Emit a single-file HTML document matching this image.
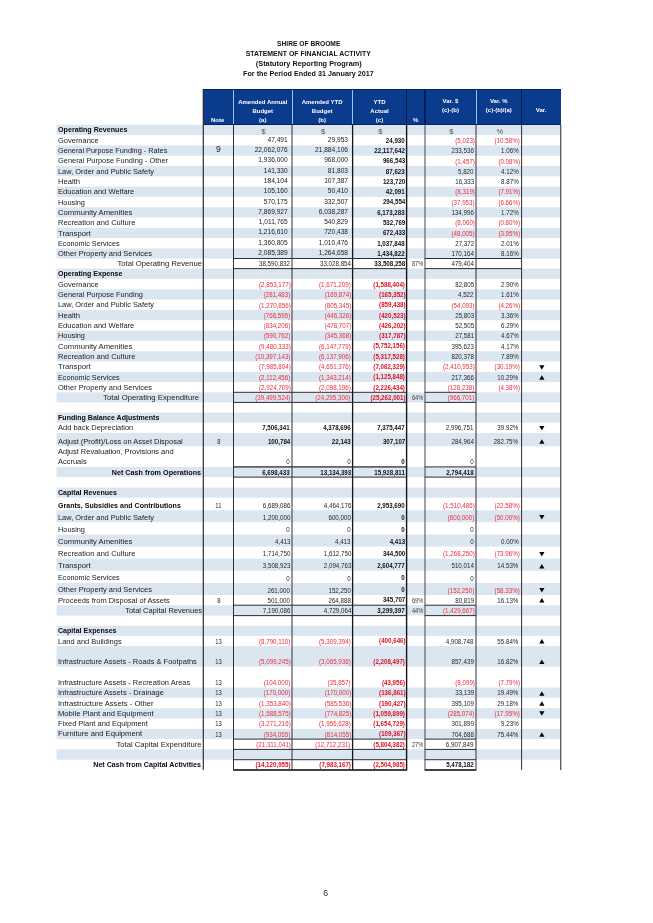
<!DOCTYPE html>
<html lang="en"><head><meta charset="utf-8"><title>Statement of Financial Activity</title>
<style>
html,body{margin:0;padding:0;background:#fff;}
body{width:653px;height:923px;position:relative;overflow:hidden;font-family:"Liberation Sans",sans-serif;color:#222;}
.t{position:absolute;left:56.5px;width:504.2px;text-align:center;font-weight:bold;color:#111;font-size:6.9px;line-height:10px;white-space:nowrap;}
.t span{display:inline-block;transform-origin:50% 50%;}
.row{position:absolute;left:56.5px;width:504.2px;}
.s{background:#dce6f1;}
.c{position:absolute;white-space:nowrap;line-height:10px;}
.c span{display:inline-block;}
.l{left:1.6px;font-size:7.6px;color:#1a1a1a;}
.l span{transform-origin:0 50%;transform:scaleX(0.985);}
.l.b span{transform:scaleX(0.93);}
.lr{font-size:7.6px;color:#1a1a1a;text-align:right;}
.lr span{transform-origin:100% 50%;transform:scaleX(0.985);}
.lr.b span{transform:scaleX(0.93);}
.b{font-weight:bold;color:#0a0a0a;}
.n{text-align:right;font-size:6.6px;color:#262626;}
.n span{transform-origin:100% 50%;transform:scaleX(0.94);}
.n.ar span{transform:none;}
.n.nb span{transform:scaleX(0.96);}
.ar{font-size:6.6px;color:#222;}
.nb{font-weight:bold;font-size:6.45px;color:#111;}
.red{color:#ee2c3a;}
.nb.red{color:#e0101e;}
.ctr{text-align:center;font-size:6.5px;color:#383838;}
.ctr span{transform:scaleX(0.86);}
.sym{text-align:center;font-size:7.4px;color:#555;margin-left:0.9px;}
.nt{text-align:center;font-size:6.5px;color:#2a2a2a;}
.nt span{transform:scaleX(0.9);}
.nt.n9 span{transform:none;}
.tri{text-align:center;font-size:6.5px;color:#000;}
.v{position:absolute;background:#2e2e38;}
.h{position:absolute;background:#2e2e38;}
.hd{position:absolute;background:#0a3b8c;}
.ht{position:absolute;color:#fff;font-weight:bold;font-size:6.0px;line-height:9.0px;text-align:center;white-space:nowrap;}
</style></head><body>

<div class="t" style="top:38.8px"><span style="transform:scaleX(0.966)">SHIRE OF BROOME</span></div>
<div class="t" style="top:48.7px"><span style="transform:scaleX(1.006)">STATEMENT OF FINANCIAL ACTIVITY</span></div>
<div class="t" style="top:58.6px"><span style="transform:scaleX(1.064)">(Statutory Reporting Program)</span></div>
<div class="t" style="top:68.8px"><span style="transform:scaleX(1.048)">For the Period Ended 31 January 2017</span></div>
<svg style="position:absolute;left:0;top:0" width="653" height="923" viewBox="0 0 653 923"><rect x="56.5" y="124.80" width="504.2" height="10.30" fill="#dce6f1"/><rect x="56.5" y="145.40" width="504.2" height="10.30" fill="#dce6f1"/><rect x="56.5" y="166.00" width="504.2" height="10.30" fill="#dce6f1"/><rect x="56.5" y="186.60" width="504.2" height="10.30" fill="#dce6f1"/><rect x="56.5" y="207.20" width="504.2" height="10.30" fill="#dce6f1"/><rect x="56.5" y="227.80" width="504.2" height="10.30" fill="#dce6f1"/><rect x="56.5" y="248.40" width="504.2" height="10.10" fill="#dce6f1"/><rect x="56.5" y="268.60" width="504.2" height="10.30" fill="#dce6f1"/><rect x="56.5" y="289.30" width="504.2" height="10.30" fill="#dce6f1"/><rect x="56.5" y="309.90" width="504.2" height="10.30" fill="#dce6f1"/><rect x="56.5" y="330.60" width="504.2" height="10.30" fill="#dce6f1"/><rect x="56.5" y="351.20" width="504.2" height="10.30" fill="#dce6f1"/><rect x="56.5" y="371.80" width="504.2" height="10.30" fill="#dce6f1"/><rect x="56.5" y="392.30" width="504.2" height="10.10" fill="#dce6f1"/><rect x="56.5" y="412.60" width="504.2" height="10.10" fill="#dce6f1"/><rect x="56.5" y="432.90" width="504.2" height="13.40" fill="#dce6f1"/><rect x="56.5" y="466.90" width="504.2" height="10.20" fill="#dce6f1"/><rect x="56.5" y="487.60" width="504.2" height="10.10" fill="#dce6f1"/><rect x="56.5" y="510.20" width="504.2" height="12.10" fill="#dce6f1"/><rect x="56.5" y="534.50" width="504.2" height="12.10" fill="#dce6f1"/><rect x="56.5" y="558.70" width="504.2" height="12.10" fill="#dce6f1"/><rect x="56.5" y="583.00" width="504.2" height="12.00" fill="#dce6f1"/><rect x="56.5" y="605.20" width="504.2" height="10.40" fill="#dce6f1"/><rect x="56.5" y="625.80" width="504.2" height="10.10" fill="#dce6f1"/><rect x="56.5" y="646.10" width="504.2" height="20.50" fill="#dce6f1"/><rect x="56.5" y="687.50" width="504.2" height="10.30" fill="#dce6f1"/><rect x="56.5" y="708.20" width="504.2" height="10.30" fill="#dce6f1"/><rect x="56.5" y="728.80" width="504.2" height="10.30" fill="#dce6f1"/><rect x="56.5" y="749.40" width="504.2" height="10.30" fill="#dce6f1"/></svg>
<div class="row" style="top:124.80px;height:10.30px">
<div class="c l b" style="top:-0.08px"><span style="transform:scaleX(0.940)">Operating Revenues</span></div>
<div class="c sym" style="left:177.0px;width:58.5px;top:1.99px;"><span>$</span></div>
<div class="c sym" style="left:235.5px;width:60.3px;top:1.99px;"><span>$</span></div>
<div class="c sym" style="left:295.8px;width:54.4px;top:1.99px;"><span>$</span></div>
<div class="c sym" style="left:368.3px;width:51.2px;top:1.99px;"><span>$</span></div>
<div class="c sym" style="left:419.5px;width:45.6px;top:1.99px;"><span>%</span></div>
</div>
<div class="row" style="top:135.10px;height:10.30px">
<div class="c l" style="top:0.62px"><span>Governance</span></div>
<div class="c n ar" style="left:177.0px;width:54.2px;top:-0.04px;"><span>47,491</span></div>
<div class="c n ar" style="left:235.5px;width:56.0px;top:-0.04px;"><span>29,953</span></div>
<div class="c n nb" style="left:295.8px;width:52.6px;top:1.02px;"><span>24,930</span></div>
<div class="c n red" style="left:368.3px;width:49.9px;top:0.96px;"><span>(5,023)</span></div>
<div class="c n red" style="left:419.5px;width:44.0px;top:0.96px;"><span>(10.58%)</span></div>
</div>
<div class="row" style="top:145.40px;height:10.30px">
<div class="c l" style="top:0.32px"><span style="transform:scaleX(0.963)">General Purpose Funding - Rates</span></div>
<div class="c nt n9" style="left:146.8px;width:30.2px;top:-1.03px;font-size:8.6px;color:#1a1a1a;"><span>9</span></div>
<div class="c n ar" style="left:177.0px;width:54.2px;top:-0.34px;"><span>22,062,076</span></div>
<div class="c n ar" style="left:235.5px;width:56.0px;top:-0.34px;"><span>21,884,106</span></div>
<div class="c n nb" style="left:295.8px;width:52.6px;top:0.72px;"><span>22,117,642</span></div>
<div class="c n" style="left:368.3px;width:48.9px;top:0.66px;"><span>233,536</span></div>
<div class="c n" style="left:419.5px;width:42.5px;top:0.66px;"><span>1.06%</span></div>
</div>
<div class="row" style="top:155.70px;height:10.30px">
<div class="c l" style="top:0.02px"><span style="transform:scaleX(0.976)">General Purpose Funding - Other</span></div>
<div class="c n ar" style="left:177.0px;width:54.2px;top:-0.64px;"><span>1,936,000</span></div>
<div class="c n ar" style="left:235.5px;width:56.0px;top:-0.64px;"><span>968,000</span></div>
<div class="c n nb" style="left:295.8px;width:52.6px;top:0.42px;"><span>966,543</span></div>
<div class="c n red" style="left:368.3px;width:49.9px;top:1.36px;"><span>(1,457)</span></div>
<div class="c n red" style="left:419.5px;width:44.0px;top:1.36px;"><span>(0.08%)</span></div>
</div>
<div class="row" style="top:166.00px;height:10.30px">
<div class="c l" style="top:0.72px"><span style="transform:scaleX(0.975)">Law, Order and Public Safety</span></div>
<div class="c n ar" style="left:177.0px;width:54.2px;top:0.06px;"><span>141,330</span></div>
<div class="c n ar" style="left:235.5px;width:56.0px;top:0.06px;"><span>81,803</span></div>
<div class="c n nb" style="left:295.8px;width:52.6px;top:1.12px;"><span>87,623</span></div>
<div class="c n" style="left:368.3px;width:48.9px;top:1.06px;"><span>5,820</span></div>
<div class="c n" style="left:419.5px;width:42.5px;top:1.06px;"><span>4.12%</span></div>
</div>
<div class="row" style="top:176.30px;height:10.30px">
<div class="c l" style="top:0.42px"><span style="transform:scaleX(1.005)">Health</span></div>
<div class="c n ar" style="left:177.0px;width:54.2px;top:-0.24px;"><span>184,104</span></div>
<div class="c n ar" style="left:235.5px;width:56.0px;top:-0.24px;"><span>107,387</span></div>
<div class="c n nb" style="left:295.8px;width:52.6px;top:0.82px;"><span>123,720</span></div>
<div class="c n" style="left:368.3px;width:48.9px;top:0.76px;"><span>16,333</span></div>
<div class="c n" style="left:419.5px;width:42.5px;top:0.76px;"><span>8.87%</span></div>
</div>
<div class="row" style="top:186.60px;height:10.30px">
<div class="c l" style="top:0.12px"><span style="transform:scaleX(0.995)">Education and Welfare</span></div>
<div class="c n ar" style="left:177.0px;width:54.2px;top:-0.54px;"><span>105,160</span></div>
<div class="c n ar" style="left:235.5px;width:56.0px;top:-0.54px;"><span>50,410</span></div>
<div class="c n nb" style="left:295.8px;width:52.6px;top:0.52px;"><span>42,091</span></div>
<div class="c n red" style="left:368.3px;width:49.9px;top:0.46px;"><span>(8,319)</span></div>
<div class="c n red" style="left:419.5px;width:44.0px;top:0.46px;"><span>(7.91%)</span></div>
</div>
<div class="row" style="top:196.90px;height:10.30px">
<div class="c l" style="top:0.82px"><span style="transform:scaleX(0.967)">Housing</span></div>
<div class="c n ar" style="left:177.0px;width:54.2px;top:0.16px;"><span>570,175</span></div>
<div class="c n ar" style="left:235.5px;width:56.0px;top:0.16px;"><span>332,507</span></div>
<div class="c n nb" style="left:295.8px;width:52.6px;top:0.22px;"><span>294,554</span></div>
<div class="c n red" style="left:368.3px;width:49.9px;top:1.16px;"><span>(37,953)</span></div>
<div class="c n red" style="left:419.5px;width:44.0px;top:1.16px;"><span>(6.66%)</span></div>
</div>
<div class="row" style="top:207.20px;height:10.30px">
<div class="c l" style="top:0.52px"><span style="transform:scaleX(1.012)">Community Amenities</span></div>
<div class="c n ar" style="left:177.0px;width:54.2px;top:-0.14px;"><span>7,869,927</span></div>
<div class="c n ar" style="left:235.5px;width:56.0px;top:-0.14px;"><span>6,038,287</span></div>
<div class="c n nb" style="left:295.8px;width:52.6px;top:0.92px;"><span>6,173,283</span></div>
<div class="c n" style="left:368.3px;width:48.9px;top:0.86px;"><span>134,996</span></div>
<div class="c n" style="left:419.5px;width:42.5px;top:0.86px;"><span>1.72%</span></div>
</div>
<div class="row" style="top:217.50px;height:10.30px">
<div class="c l" style="top:0.22px"><span style="transform:scaleX(0.991)">Recreation and Culture</span></div>
<div class="c n ar" style="left:177.0px;width:54.2px;top:-0.44px;"><span>1,011,765</span></div>
<div class="c n ar" style="left:235.5px;width:56.0px;top:-0.44px;"><span>540,829</span></div>
<div class="c n nb" style="left:295.8px;width:52.6px;top:0.62px;"><span>532,769</span></div>
<div class="c n red" style="left:368.3px;width:49.9px;top:0.56px;"><span>(8,060)</span></div>
<div class="c n red" style="left:419.5px;width:44.0px;top:0.56px;"><span>(0.80%)</span></div>
</div>
<div class="row" style="top:227.80px;height:10.30px">
<div class="c l" style="top:0.92px"><span style="transform:scaleX(1.016)">Transport</span></div>
<div class="c n ar" style="left:177.0px;width:54.2px;top:-0.74px;"><span>1,216,610</span></div>
<div class="c n ar" style="left:235.5px;width:56.0px;top:-0.74px;"><span>720,438</span></div>
<div class="c n nb" style="left:295.8px;width:52.6px;top:0.32px;"><span>672,433</span></div>
<div class="c n red" style="left:368.3px;width:49.9px;top:1.26px;"><span>(48,005)</span></div>
<div class="c n red" style="left:419.5px;width:44.0px;top:1.26px;"><span>(3.95%)</span></div>
</div>
<div class="row" style="top:238.10px;height:10.30px">
<div class="c l" style="top:0.62px"><span style="transform:scaleX(0.954)">Economic Services</span></div>
<div class="c n ar" style="left:177.0px;width:54.2px;top:-0.04px;"><span>1,360,805</span></div>
<div class="c n ar" style="left:235.5px;width:56.0px;top:-0.04px;"><span>1,010,476</span></div>
<div class="c n nb" style="left:295.8px;width:52.6px;top:1.02px;"><span>1,037,848</span></div>
<div class="c n" style="left:368.3px;width:48.9px;top:0.96px;"><span>27,372</span></div>
<div class="c n" style="left:419.5px;width:42.5px;top:0.96px;"><span>2.01%</span></div>
</div>
<div class="row" style="top:248.40px;height:10.10px">
<div class="c l" style="top:0.32px"><span style="transform:scaleX(0.980)">Other Property and Services</span></div>
<div class="c n ar" style="left:177.0px;width:54.2px;top:-0.34px;"><span>2,085,389</span></div>
<div class="c n ar" style="left:235.5px;width:56.0px;top:-0.34px;"><span>1,264,658</span></div>
<div class="c n nb" style="left:295.8px;width:52.6px;top:0.72px;"><span>1,434,822</span></div>
<div class="c n" style="left:368.3px;width:48.9px;top:0.66px;"><span>170,164</span></div>
<div class="c n" style="left:419.5px;width:42.5px;top:0.66px;"><span>8.16%</span></div>
</div>
<div class="row" style="top:258.50px;height:10.10px">
<div class="c lr" style="left:0;width:145.3px;top:0.22px"><span style="transform:scaleX(1.006)">Total Operating Revenue</span></div>
<div class="c n" style="left:177.0px;width:56.6px;top:0.56px;"><span>38,590,832</span></div>
<div class="c n" style="left:235.5px;width:58.9px;top:0.56px;"><span>33,028,854</span></div>
<div class="c n nb" style="left:295.8px;width:52.6px;top:0.62px;"><span>33,508,258</span></div>
<div class="c ctr" style="left:350.2px;width:18.1px;top:0.56px;margin-left:1.8px;"><span>87%</span></div>
<div class="c n" style="left:368.3px;width:48.9px;top:0.56px;"><span>479,404</span></div>
</div>
<div class="row" style="top:268.60px;height:10.30px">
<div class="c l b" style="top:0.12px"><span>Operating Expense</span></div>
</div>
<div class="row" style="top:278.90px;height:10.40px">
<div class="c l" style="top:0.82px"><span>Governance</span></div>
<div class="c n red" style="left:177.0px;width:57.1px;top:1.16px;"><span>(2,853,177)</span></div>
<div class="c n red" style="left:235.5px;width:58.9px;top:1.16px;"><span>(1,671,209)</span></div>
<div class="c n nb red" style="left:295.8px;width:52.9px;top:1.22px;"><span>(1,588,404)</span></div>
<div class="c n" style="left:368.3px;width:48.9px;top:1.16px;"><span>82,805</span></div>
<div class="c n" style="left:419.5px;width:42.5px;top:1.16px;"><span>2.90%</span></div>
</div>
<div class="row" style="top:289.30px;height:10.30px">
<div class="c l" style="top:0.42px"><span style="transform:scaleX(0.976)">General Purpose Funding</span></div>
<div class="c n red" style="left:177.0px;width:57.1px;top:0.76px;"><span>(281,483)</span></div>
<div class="c n red" style="left:235.5px;width:58.9px;top:0.76px;"><span>(169,874)</span></div>
<div class="c n nb red" style="left:295.8px;width:52.9px;top:0.82px;"><span>(165,352)</span></div>
<div class="c n" style="left:368.3px;width:48.9px;top:0.76px;"><span>4,522</span></div>
<div class="c n" style="left:419.5px;width:42.5px;top:0.76px;"><span>1.61%</span></div>
</div>
<div class="row" style="top:299.60px;height:10.30px">
<div class="c l" style="top:0.12px"><span style="transform:scaleX(0.975)">Law, Order and Public Safety</span></div>
<div class="c n red" style="left:177.0px;width:57.1px;top:1.46px;"><span>(1,270,856)</span></div>
<div class="c n red" style="left:235.5px;width:58.9px;top:1.46px;"><span>(805,345)</span></div>
<div class="c n nb red" style="left:295.8px;width:52.9px;top:0.52px;"><span>(859,438)</span></div>
<div class="c n red" style="left:368.3px;width:49.9px;top:1.46px;"><span>(54,093)</span></div>
<div class="c n red" style="left:419.5px;width:44.0px;top:1.46px;"><span>(4.26%)</span></div>
</div>
<div class="row" style="top:309.90px;height:10.30px">
<div class="c l" style="top:0.82px"><span style="transform:scaleX(1.005)">Health</span></div>
<div class="c n red" style="left:177.0px;width:57.1px;top:1.16px;"><span>(768,595)</span></div>
<div class="c n red" style="left:235.5px;width:58.9px;top:1.16px;"><span>(446,326)</span></div>
<div class="c n nb red" style="left:295.8px;width:52.9px;top:1.22px;"><span>(420,523)</span></div>
<div class="c n" style="left:368.3px;width:48.9px;top:1.16px;"><span>25,803</span></div>
<div class="c n" style="left:419.5px;width:42.5px;top:1.16px;"><span>3.36%</span></div>
</div>
<div class="row" style="top:320.20px;height:10.40px">
<div class="c l" style="top:0.52px"><span style="transform:scaleX(0.995)">Education and Welfare</span></div>
<div class="c n red" style="left:177.0px;width:57.1px;top:0.86px;"><span>(834,206)</span></div>
<div class="c n red" style="left:235.5px;width:58.9px;top:0.86px;"><span>(478,707)</span></div>
<div class="c n nb red" style="left:295.8px;width:52.9px;top:0.92px;"><span>(426,202)</span></div>
<div class="c n" style="left:368.3px;width:48.9px;top:0.86px;"><span>52,505</span></div>
<div class="c n" style="left:419.5px;width:42.5px;top:0.86px;"><span>6.29%</span></div>
</div>
<div class="row" style="top:330.60px;height:10.30px">
<div class="c l" style="top:0.12px"><span style="transform:scaleX(0.967)">Housing</span></div>
<div class="c n red" style="left:177.0px;width:57.1px;top:0.46px;"><span>(590,762)</span></div>
<div class="c n red" style="left:235.5px;width:58.9px;top:0.46px;"><span>(345,368)</span></div>
<div class="c n nb red" style="left:295.8px;width:52.9px;top:0.52px;"><span>(317,787)</span></div>
<div class="c n" style="left:368.3px;width:48.9px;top:0.46px;"><span>27,581</span></div>
<div class="c n" style="left:419.5px;width:42.5px;top:0.46px;"><span>4.67%</span></div>
</div>
<div class="row" style="top:340.90px;height:10.30px">
<div class="c l" style="top:0.82px"><span style="transform:scaleX(1.012)">Community Amenities</span></div>
<div class="c n red" style="left:177.0px;width:57.1px;top:1.16px;"><span>(9,480,333)</span></div>
<div class="c n red" style="left:235.5px;width:58.9px;top:1.16px;"><span>(6,147,779)</span></div>
<div class="c n nb red" style="left:295.8px;width:52.9px;top:0.22px;"><span>(5,752,156)</span></div>
<div class="c n" style="left:368.3px;width:48.9px;top:1.16px;"><span>395,623</span></div>
<div class="c n" style="left:419.5px;width:42.5px;top:1.16px;"><span>4.17%</span></div>
</div>
<div class="row" style="top:351.20px;height:10.30px">
<div class="c l" style="top:0.52px"><span style="transform:scaleX(0.991)">Recreation and Culture</span></div>
<div class="c n red" style="left:177.0px;width:57.1px;top:0.86px;"><span>(10,397,143)</span></div>
<div class="c n red" style="left:235.5px;width:58.9px;top:0.86px;"><span>(6,137,906)</span></div>
<div class="c n nb red" style="left:295.8px;width:52.9px;top:0.92px;"><span>(5,317,528)</span></div>
<div class="c n" style="left:368.3px;width:48.9px;top:0.86px;"><span>820,378</span></div>
<div class="c n" style="left:419.5px;width:42.5px;top:0.86px;"><span>7.89%</span></div>
</div>
<div class="row" style="top:361.50px;height:10.30px">
<div class="c l" style="top:0.22px"><span style="transform:scaleX(1.016)">Transport</span></div>
<div class="c n red" style="left:177.0px;width:57.1px;top:0.56px;"><span>(7,985,804)</span></div>
<div class="c n red" style="left:235.5px;width:58.9px;top:0.56px;"><span>(4,651,376)</span></div>
<div class="c n nb red" style="left:295.8px;width:52.9px;top:0.62px;"><span>(7,062,329)</span></div>
<div class="c n red" style="left:368.3px;width:49.9px;top:0.56px;"><span>(2,410,953)</span></div>
<div class="c n red" style="left:419.5px;width:44.0px;top:0.56px;"><span>(30.19%)</span></div>
<svg style="position:absolute;left:0;top:0;overflow:visible" width="504.2" height="10.3"><polygon points="482.25,3.20 487.45,3.20 484.85,7.70" fill="#000"/></svg>
</div>
<div class="row" style="top:371.80px;height:10.30px">
<div class="c l" style="top:0.92px"><span style="transform:scaleX(0.954)">Economic Services</span></div>
<div class="c n red" style="left:177.0px;width:57.1px;top:1.26px;"><span>(2,112,456)</span></div>
<div class="c n red" style="left:235.5px;width:58.9px;top:1.26px;"><span>(1,343,214)</span></div>
<div class="c n nb red" style="left:295.8px;width:52.9px;top:0.32px;"><span>(1,125,848)</span></div>
<div class="c n" style="left:368.3px;width:48.9px;top:1.26px;"><span>217,366</span></div>
<div class="c n" style="left:419.5px;width:42.5px;top:1.26px;"><span>10.29%</span></div>
<svg style="position:absolute;left:0;top:0;overflow:visible" width="504.2" height="10.3"><polygon points="482.25,7.70 487.45,7.70 484.85,3.20" fill="#000"/></svg>
</div>
<div class="row" style="top:382.10px;height:10.20px">
<div class="c l" style="top:0.62px"><span style="transform:scaleX(0.980)">Other Property and Services</span></div>
<div class="c n red" style="left:177.0px;width:57.1px;top:0.96px;"><span>(2,924,709)</span></div>
<div class="c n red" style="left:235.5px;width:58.9px;top:0.96px;"><span>(2,098,196)</span></div>
<div class="c n nb red" style="left:295.8px;width:52.9px;top:1.02px;"><span>(2,226,434)</span></div>
<div class="c n red" style="left:368.3px;width:49.9px;top:0.96px;"><span>(128,238)</span></div>
<div class="c n red" style="left:419.5px;width:44.0px;top:0.96px;"><span>(4.38%)</span></div>
</div>
<div class="row" style="top:392.30px;height:10.10px">
<div class="c lr" style="left:0;width:142.6px;top:0.42px"><span style="transform:scaleX(1.020)">Total Operating Expenditure</span></div>
<div class="c n red" style="left:177.0px;width:57.1px;top:0.76px;"><span>(39,499,524)</span></div>
<div class="c n red" style="left:235.5px;width:58.9px;top:0.76px;"><span>(24,295,300)</span></div>
<div class="c n nb red" style="left:295.8px;width:52.9px;top:0.82px;"><span>(25,262,001)</span></div>
<div class="c ctr" style="left:350.2px;width:18.1px;top:0.76px;margin-left:1.8px;"><span>64%</span></div>
<div class="c n red" style="left:368.3px;width:49.9px;top:0.76px;"><span>(966,701)</span></div>
</div>
<div class="row" style="top:402.40px;height:10.20px">
</div>
<div class="row" style="top:412.60px;height:10.10px">
<div class="c l b" style="top:0.12px"><span>Funding Balance Adjustments</span></div>
</div>
<div class="row" style="top:422.70px;height:10.20px">
<div class="c l" style="top:0.02px"><span>Add back Depreciation</span></div>
<div class="c n nb" style="left:177.0px;width:56.6px;top:0.42px;"><span>7,506,341</span></div>
<div class="c n nb" style="left:235.5px;width:58.9px;top:0.42px;"><span>4,378,696</span></div>
<div class="c n nb" style="left:295.8px;width:52.6px;top:0.42px;"><span>7,375,447</span></div>
<div class="c n" style="left:368.3px;width:48.9px;top:0.36px;"><span>2,996,751</span></div>
<div class="c n" style="left:419.5px;width:42.5px;top:0.36px;"><span>39.92%</span></div>
<svg style="position:absolute;left:0;top:0;overflow:visible" width="504.2" height="10.2"><polygon points="482.25,3.10 487.45,3.10 484.85,7.60" fill="#000"/></svg>
</div>
<div class="row" style="top:432.90px;height:13.40px">
<div class="c l" style="top:3.82px"><span>Adjust (Profit)/Loss on Asset Disposal</span></div>
<div class="c nt" style="left:146.8px;width:30.2px;top:4.20px;"><span>8</span></div>
<div class="c n nb" style="left:177.0px;width:56.6px;top:4.22px;"><span>100,784</span></div>
<div class="c n nb" style="left:235.5px;width:58.9px;top:4.22px;"><span>22,143</span></div>
<div class="c n nb" style="left:295.8px;width:52.6px;top:4.22px;"><span>307,107</span></div>
<div class="c n" style="left:368.3px;width:48.9px;top:4.16px;"><span>284,964</span></div>
<div class="c n" style="left:419.5px;width:42.5px;top:4.16px;"><span>282.75%</span></div>
<svg style="position:absolute;left:0;top:0;overflow:visible" width="504.2" height="13.4"><polygon points="482.25,10.80 487.45,10.80 484.85,6.30" fill="#000"/></svg>
</div>
<div class="row" style="top:446.30px;height:20.60px">
<div class="c l" style="top:0.42px"><span>Adjust Revaluation, Provisions and<br>Accruals</span></div>
<div class="c n" style="left:177.0px;width:56.6px;top:10.76px;"><span>0</span></div>
<div class="c n" style="left:235.5px;width:58.9px;top:10.76px;"><span>0</span></div>
<div class="c n nb" style="left:295.8px;width:52.6px;top:10.82px;"><span>0</span></div>
<div class="c n" style="left:368.3px;width:48.9px;top:10.76px;"><span>0</span></div>
</div>
<div class="row" style="top:466.90px;height:10.20px">
<div class="c lr b" style="left:0;width:144.8px;top:0.82px"><span style="transform:scaleX(0.950)">Net Cash from Operations</span></div>
<div class="c n nb" style="left:177.0px;width:56.6px;top:1.22px;"><span>6,698,433</span></div>
<div class="c n nb" style="left:235.5px;width:58.9px;top:1.22px;"><span>13,134,393</span></div>
<div class="c n nb" style="left:295.8px;width:52.6px;top:1.22px;"><span>15,928,811</span></div>
<div class="c n nb" style="left:368.3px;width:48.9px;top:1.22px;"><span>2,794,418</span></div>
</div>
<div class="row" style="top:477.10px;height:10.50px">
</div>
<div class="row" style="top:487.60px;height:10.10px">
<div class="c l b" style="top:0.12px"><span>Capital Revenues</span></div>
</div>
<div class="row" style="top:497.70px;height:12.50px">
<div class="c l b" style="top:3.02px"><span>Grants, Subsidies and Contributions</span></div>
<div class="c nt" style="left:146.8px;width:30.2px;top:3.40px;"><span>11</span></div>
<div class="c n" style="left:177.0px;width:56.6px;top:3.36px;"><span>6,689,086</span></div>
<div class="c n" style="left:235.5px;width:58.9px;top:3.36px;"><span>4,464,176</span></div>
<div class="c n nb" style="left:295.8px;width:52.6px;top:3.42px;"><span>2,953,690</span></div>
<div class="c n red" style="left:368.3px;width:49.9px;top:3.36px;"><span>(1,510,486)</span></div>
<div class="c n red" style="left:419.5px;width:44.0px;top:3.36px;"><span>(22.58%)</span></div>
</div>
<div class="row" style="top:510.20px;height:12.10px">
<div class="c l" style="top:2.52px"><span style="transform:scaleX(0.975)">Law, Order and Public Safety</span></div>
<div class="c n" style="left:177.0px;width:56.6px;top:2.86px;"><span>1,200,000</span></div>
<div class="c n" style="left:235.5px;width:58.9px;top:2.86px;"><span>600,000</span></div>
<div class="c n nb" style="left:295.8px;width:52.6px;top:2.92px;"><span>0</span></div>
<div class="c n red" style="left:368.3px;width:49.9px;top:2.86px;"><span>(600,000)</span></div>
<div class="c n red" style="left:419.5px;width:44.0px;top:2.86px;"><span>(50.00%)</span></div>
<svg style="position:absolute;left:0;top:0;overflow:visible" width="504.2" height="12.1"><polygon points="482.25,5.00 487.45,5.00 484.85,9.50" fill="#000"/></svg>
</div>
<div class="row" style="top:522.30px;height:12.20px">
<div class="c l" style="top:2.42px"><span style="transform:scaleX(0.967)">Housing</span></div>
<div class="c n" style="left:177.0px;width:56.6px;top:2.76px;"><span>0</span></div>
<div class="c n" style="left:235.5px;width:58.9px;top:2.76px;"><span>0</span></div>
<div class="c n nb" style="left:295.8px;width:52.6px;top:2.82px;"><span>0</span></div>
<div class="c n" style="left:368.3px;width:48.9px;top:2.76px;"><span>0</span></div>
</div>
<div class="row" style="top:534.50px;height:12.10px">
<div class="c l" style="top:2.22px"><span style="transform:scaleX(1.012)">Community Amenities</span></div>
<div class="c n" style="left:177.0px;width:56.6px;top:2.56px;"><span>4,413</span></div>
<div class="c n" style="left:235.5px;width:58.9px;top:2.56px;"><span>4,413</span></div>
<div class="c n nb" style="left:295.8px;width:52.6px;top:2.62px;"><span>4,413</span></div>
<div class="c n" style="left:368.3px;width:48.9px;top:2.56px;"><span>0</span></div>
<div class="c n" style="left:419.5px;width:42.5px;top:2.56px;"><span>0.00%</span></div>
</div>
<div class="row" style="top:546.60px;height:12.10px">
<div class="c l" style="top:2.12px"><span style="transform:scaleX(0.991)">Recreation and Culture</span></div>
<div class="c n" style="left:177.0px;width:56.6px;top:2.46px;"><span>1,714,750</span></div>
<div class="c n" style="left:235.5px;width:58.9px;top:2.46px;"><span>1,612,750</span></div>
<div class="c n nb" style="left:295.8px;width:52.6px;top:2.52px;"><span>344,500</span></div>
<div class="c n red" style="left:368.3px;width:49.9px;top:2.46px;"><span>(1,268,250)</span></div>
<div class="c n red" style="left:419.5px;width:44.0px;top:2.46px;"><span>(73.96%)</span></div>
<svg style="position:absolute;left:0;top:0;overflow:visible" width="504.2" height="12.1"><polygon points="482.25,5.00 487.45,5.00 484.85,9.50" fill="#000"/></svg>
</div>
<div class="row" style="top:558.70px;height:12.10px">
<div class="c l" style="top:2.02px"><span style="transform:scaleX(1.016)">Transport</span></div>
<div class="c n" style="left:177.0px;width:56.6px;top:2.36px;"><span>3,508,923</span></div>
<div class="c n" style="left:235.5px;width:58.9px;top:2.36px;"><span>2,094,763</span></div>
<div class="c n nb" style="left:295.8px;width:52.6px;top:2.42px;"><span>2,604,777</span></div>
<div class="c n" style="left:368.3px;width:48.9px;top:2.36px;"><span>510,014</span></div>
<div class="c n" style="left:419.5px;width:42.5px;top:2.36px;"><span>14.53%</span></div>
<svg style="position:absolute;left:0;top:0;overflow:visible" width="504.2" height="12.1"><polygon points="482.25,9.50 487.45,9.50 484.85,5.00" fill="#000"/></svg>
</div>
<div class="row" style="top:570.80px;height:12.20px">
<div class="c l" style="top:1.92px"><span style="transform:scaleX(0.954)">Economic Services</span></div>
<div class="c n" style="left:177.0px;width:56.6px;top:3.26px;"><span>0</span></div>
<div class="c n" style="left:235.5px;width:58.9px;top:3.26px;"><span>0</span></div>
<div class="c n nb" style="left:295.8px;width:52.6px;top:2.32px;"><span>0</span></div>
<div class="c n" style="left:368.3px;width:48.9px;top:3.26px;"><span>0</span></div>
</div>
<div class="row" style="top:583.00px;height:12.00px">
<div class="c l" style="top:1.72px"><span style="transform:scaleX(0.980)">Other Property and Services</span></div>
<div class="c n" style="left:177.0px;width:56.6px;top:3.06px;"><span>261,000</span></div>
<div class="c n" style="left:235.5px;width:58.9px;top:3.06px;"><span>152,250</span></div>
<div class="c n nb" style="left:295.8px;width:52.6px;top:2.12px;"><span>0</span></div>
<div class="c n red" style="left:368.3px;width:49.9px;top:3.06px;"><span>(152,250)</span></div>
<div class="c n red" style="left:419.5px;width:44.0px;top:3.06px;"><span>(58.33%)</span></div>
<svg style="position:absolute;left:0;top:0;overflow:visible" width="504.2" height="12.0"><polygon points="482.25,4.90 487.45,4.90 484.85,9.40" fill="#000"/></svg>
</div>
<div class="row" style="top:595.00px;height:10.20px">
<div class="c l" style="top:0.72px"><span>Proceeds from Disposal of Assets</span></div>
<div class="c nt" style="left:146.8px;width:30.2px;top:1.10px;"><span>8</span></div>
<div class="c n" style="left:177.0px;width:56.6px;top:1.06px;"><span>501,000</span></div>
<div class="c n" style="left:235.5px;width:58.9px;top:1.06px;"><span>264,888</span></div>
<div class="c n nb" style="left:295.8px;width:52.6px;top:0.12px;"><span>345,707</span></div>
<div class="c ctr" style="left:350.2px;width:18.1px;top:1.06px;margin-left:1.8px;"><span>69%</span></div>
<div class="c n" style="left:368.3px;width:48.9px;top:1.06px;"><span>80,819</span></div>
<div class="c n" style="left:419.5px;width:42.5px;top:1.06px;"><span>16.13%</span></div>
<svg style="position:absolute;left:0;top:0;overflow:visible" width="504.2" height="10.2"><polygon points="482.25,7.60 487.45,7.60 484.85,3.10" fill="#000"/></svg>
</div>
<div class="row" style="top:605.20px;height:10.40px">
<div class="c lr" style="left:0;width:145.3px;top:0.52px"><span>Total Capital Revenues</span></div>
<div class="c n" style="left:177.0px;width:56.6px;top:0.86px;"><span>7,190,086</span></div>
<div class="c n" style="left:235.5px;width:58.9px;top:0.86px;"><span>4,729,064</span></div>
<div class="c n nb" style="left:295.8px;width:52.6px;top:0.92px;"><span>3,299,397</span></div>
<div class="c ctr" style="left:350.2px;width:18.1px;top:0.86px;margin-left:1.8px;"><span>44%</span></div>
<div class="c n red" style="left:368.3px;width:49.9px;top:0.86px;"><span>(1,429,667)</span></div>
</div>
<div class="row" style="top:615.60px;height:10.20px">
</div>
<div class="row" style="top:625.80px;height:10.10px">
<div class="c l b" style="top:-0.08px"><span>Capital Expenses</span></div>
</div>
<div class="row" style="top:635.90px;height:10.20px">
<div class="c l" style="top:0.82px"><span>Land and Buildings</span></div>
<div class="c nt" style="left:146.8px;width:30.2px;top:1.20px;"><span>13</span></div>
<div class="c n red" style="left:177.0px;width:57.1px;top:1.16px;"><span>(8,790,110)</span></div>
<div class="c n red" style="left:235.5px;width:58.9px;top:1.16px;"><span>(5,309,394)</span></div>
<div class="c n nb red" style="left:295.8px;width:52.9px;top:0.22px;"><span>(400,646)</span></div>
<div class="c n" style="left:368.3px;width:48.9px;top:1.16px;"><span>4,908,748</span></div>
<div class="c n" style="left:419.5px;width:42.5px;top:1.16px;"><span>55.84%</span></div>
<svg style="position:absolute;left:0;top:0;overflow:visible" width="504.2" height="10.2"><polygon points="482.25,7.60 487.45,7.60 484.85,3.10" fill="#000"/></svg>
</div>
<div class="row" style="top:646.10px;height:20.50px">
<div class="c l" style="top:10.62px"><span>Infrastructure Assets - Roads &amp; Footpaths</span></div>
<div class="c nt" style="left:146.8px;width:30.2px;top:11.00px;"><span>13</span></div>
<div class="c n red" style="left:177.0px;width:57.1px;top:10.96px;"><span>(5,099,245)</span></div>
<div class="c n red" style="left:235.5px;width:58.9px;top:10.96px;"><span>(3,065,936)</span></div>
<div class="c n nb red" style="left:295.8px;width:52.9px;top:11.02px;"><span>(2,208,497)</span></div>
<div class="c n" style="left:368.3px;width:48.9px;top:10.96px;"><span>857,439</span></div>
<div class="c n" style="left:419.5px;width:42.5px;top:10.96px;"><span>16.82%</span></div>
<svg style="position:absolute;left:0;top:0;overflow:visible" width="504.2" height="20.5"><polygon points="482.25,17.90 487.45,17.90 484.85,13.40" fill="#000"/></svg>
</div>
<div class="row" style="top:666.60px;height:20.90px">
<div class="c l" style="top:11.12px"><span>Infrastructure Assets - Recreation Areas</span></div>
<div class="c nt" style="left:146.8px;width:30.2px;top:11.50px;"><span>13</span></div>
<div class="c n red" style="left:177.0px;width:57.1px;top:11.46px;"><span>(104,000)</span></div>
<div class="c n red" style="left:235.5px;width:58.9px;top:11.46px;"><span>(35,857)</span></div>
<div class="c n nb red" style="left:295.8px;width:52.9px;top:11.52px;"><span>(43,956)</span></div>
<div class="c n red" style="left:368.3px;width:49.9px;top:11.46px;"><span>(8,099)</span></div>
<div class="c n red" style="left:419.5px;width:44.0px;top:11.46px;"><span>(7.79%)</span></div>
</div>
<div class="row" style="top:687.50px;height:10.30px">
<div class="c l" style="top:0.22px"><span style="transform:scaleX(0.992)">Infrastructure Assets - Drainage</span></div>
<div class="c nt" style="left:146.8px;width:30.2px;top:0.60px;"><span>13</span></div>
<div class="c n red" style="left:177.0px;width:57.1px;top:0.56px;"><span>(170,000)</span></div>
<div class="c n red" style="left:235.5px;width:58.9px;top:0.56px;"><span>(170,000)</span></div>
<div class="c n nb red" style="left:295.8px;width:52.9px;top:0.62px;"><span>(136,861)</span></div>
<div class="c n" style="left:368.3px;width:48.9px;top:0.56px;"><span>33,139</span></div>
<div class="c n" style="left:419.5px;width:42.5px;top:0.56px;"><span>19.49%</span></div>
<svg style="position:absolute;left:0;top:0;overflow:visible" width="504.2" height="10.3"><polygon points="482.25,7.70 487.45,7.70 484.85,3.20" fill="#000"/></svg>
</div>
<div class="row" style="top:697.80px;height:10.40px">
<div class="c l" style="top:0.92px"><span style="transform:scaleX(1.006)">Infrastructure Assets - Other</span></div>
<div class="c nt" style="left:146.8px;width:30.2px;top:1.30px;"><span>13</span></div>
<div class="c n red" style="left:177.0px;width:57.1px;top:1.26px;"><span>(1,353,840)</span></div>
<div class="c n red" style="left:235.5px;width:58.9px;top:1.26px;"><span>(585,536)</span></div>
<div class="c n nb red" style="left:295.8px;width:52.9px;top:1.32px;"><span>(190,427)</span></div>
<div class="c n" style="left:368.3px;width:48.9px;top:1.26px;"><span>395,109</span></div>
<div class="c n" style="left:419.5px;width:42.5px;top:1.26px;"><span>29.18%</span></div>
<svg style="position:absolute;left:0;top:0;overflow:visible" width="504.2" height="10.4"><polygon points="482.25,7.80 487.45,7.80 484.85,3.30" fill="#000"/></svg>
</div>
<div class="row" style="top:708.20px;height:10.30px">
<div class="c l" style="top:0.52px"><span style="transform:scaleX(1.006)">Mobile Plant and Equipment</span></div>
<div class="c nt" style="left:146.8px;width:30.2px;top:0.90px;"><span>13</span></div>
<div class="c n red" style="left:177.0px;width:57.1px;top:0.86px;"><span>(1,588,575)</span></div>
<div class="c n red" style="left:235.5px;width:58.9px;top:0.86px;"><span>(774,825)</span></div>
<div class="c n nb red" style="left:295.8px;width:52.9px;top:0.92px;"><span>(1,059,899)</span></div>
<div class="c n red" style="left:368.3px;width:49.9px;top:0.86px;"><span>(285,074)</span></div>
<div class="c n red" style="left:419.5px;width:44.0px;top:0.86px;"><span>(17.95%)</span></div>
<svg style="position:absolute;left:0;top:0;overflow:visible" width="504.2" height="10.3"><polygon points="482.25,3.20 487.45,3.20 484.85,7.70" fill="#000"/></svg>
</div>
<div class="row" style="top:718.50px;height:10.30px">
<div class="c l" style="top:0.22px"><span>Fixed Plant and Equipment</span></div>
<div class="c nt" style="left:146.8px;width:30.2px;top:0.60px;"><span>13</span></div>
<div class="c n red" style="left:177.0px;width:57.1px;top:0.56px;"><span>(3,271,216)</span></div>
<div class="c n red" style="left:235.5px;width:58.9px;top:0.56px;"><span>(1,956,628)</span></div>
<div class="c n nb red" style="left:295.8px;width:52.9px;top:0.62px;"><span>(1,654,729)</span></div>
<div class="c n" style="left:368.3px;width:48.9px;top:0.56px;"><span>301,899</span></div>
<div class="c n" style="left:419.5px;width:42.5px;top:0.56px;"><span>9.23%</span></div>
</div>
<div class="row" style="top:728.80px;height:10.30px">
<div class="c l" style="top:-0.08px"><span style="transform:scaleX(1.006)">Furniture and Equipment</span></div>
<div class="c nt" style="left:146.8px;width:30.2px;top:1.30px;"><span>13</span></div>
<div class="c n red" style="left:177.0px;width:57.1px;top:1.26px;"><span>(934,055)</span></div>
<div class="c n red" style="left:235.5px;width:58.9px;top:1.26px;"><span>(814,055)</span></div>
<div class="c n nb red" style="left:295.8px;width:52.9px;top:0.32px;"><span>(109,367)</span></div>
<div class="c n" style="left:368.3px;width:48.9px;top:1.26px;"><span>704,688</span></div>
<div class="c n" style="left:419.5px;width:42.5px;top:1.26px;"><span>75.44%</span></div>
<svg style="position:absolute;left:0;top:0;overflow:visible" width="504.2" height="10.3"><polygon points="482.25,7.70 487.45,7.70 484.85,3.20" fill="#000"/></svg>
</div>
<div class="row" style="top:739.10px;height:10.30px">
<div class="c lr" style="left:0;width:145.3px;top:0.62px"><span style="transform:scaleX(1.006)">Total Capital Expenditure</span></div>
<div class="c n red" style="left:177.0px;width:57.1px;top:0.96px;"><span>(21,311,041)</span></div>
<div class="c n red" style="left:235.5px;width:58.9px;top:0.96px;"><span>(12,712,231)</span></div>
<div class="c n nb red" style="left:295.8px;width:52.9px;top:1.02px;"><span>(5,804,382)</span></div>
<div class="c ctr" style="left:350.2px;width:18.1px;top:0.96px;margin-left:1.8px;"><span>27%</span></div>
<div class="c n" style="left:368.3px;width:48.9px;top:0.96px;"><span>6,907,849</span></div>
</div>
<div class="row" style="top:749.40px;height:10.30px">
</div>
<div class="row" style="top:759.70px;height:10.30px">
<div class="c lr b" style="left:0;width:144.8px;top:0.02px"><span style="transform:scaleX(0.937)">Net Cash from Capital Activities</span></div>
<div class="c n nb red" style="left:177.0px;width:57.1px;top:0.42px;"><span>(14,120,955)</span></div>
<div class="c n nb red" style="left:235.5px;width:58.9px;top:0.42px;"><span>(7,983,167)</span></div>
<div class="c n nb red" style="left:295.8px;width:52.9px;top:0.42px;"><span>(2,504,985)</span></div>
<div class="c n nb" style="left:368.3px;width:48.9px;top:0.42px;"><span>5,478,182</span></div>
</div>
<div class="hd" style="left:202.8px;top:89.0px;width:358.4px;height:35.8px"></div>
<div style="position:absolute;left:233.0px;top:90.0px;width:1px;height:33.8px;background:#9dc0f5"></div>
<div style="position:absolute;left:291.5px;top:90.0px;width:1px;height:33.8px;background:#9dc0f5"></div>
<div style="position:absolute;left:351.8px;top:90.0px;width:1px;height:33.8px;background:#9dc0f5"></div>
<div style="position:absolute;left:475.5px;top:90.0px;width:1px;height:33.8px;background:#9dc0f5"></div>
<div style="position:absolute;left:405.9px;top:89.0px;width:1.6px;height:35.8px;background:#041d4f"></div>
<div style="position:absolute;left:424.0px;top:89.0px;width:1.6px;height:35.8px;background:#041d4f"></div>
<div style="position:absolute;left:520.8px;top:89.0px;width:1.6px;height:35.8px;background:#041d4f"></div>
<div style="position:absolute;left:202.8px;top:89.0px;width:358.4px;height:1px;background:#05225a"></div>
<div style="position:absolute;left:202.8px;top:123.8px;width:358.4px;height:1px;background:#05225a"></div>
<div class="ht" style="left:202.5px;width:30.2px;bottom:798.0px">Note</div>
<div class="ht" style="left:233.5px;width:58.5px;bottom:798.0px">Amended Annual<br>Budget<br>(a)</div>
<div class="ht" style="left:292.0px;width:60.3px;bottom:798.0px">Amended YTD<br>Budget<br>(b)</div>
<div class="ht" style="left:352.3px;width:54.4px;bottom:798.0px">YTD<br>Actual<br>(c)</div>
<div class="ht" style="left:406.7px;width:18.1px;bottom:798.0px">%</div>
<div class="ht" style="left:424.8px;width:51.2px;bottom:807.6px">Var. $<br>(c)-(b)</div>
<div class="ht" style="left:476.0px;width:45.6px;bottom:807.6px">Var. %<br>(c)-(b)/(a)</div>
<div class="ht" style="left:521.6px;width:39.1px;bottom:808.1px">Var.</div>
<svg style="position:absolute;left:0;top:0" width="653" height="923" viewBox="0 0 653 923"><rect x="202.70" y="89.00" width="1.20" height="681.00" fill="#2e2e38"/><rect x="233.00" y="124.80" width="1.00" height="645.70" fill="#2e2e38"/><rect x="291.50" y="124.80" width="1.00" height="645.70" fill="#2e2e38"/><rect x="351.95" y="124.80" width="1.30" height="645.70" fill="#15151c"/><rect x="405.90" y="124.80" width="1.40" height="645.70" fill="#15151c"/><rect x="424.50" y="124.80" width="1.00" height="645.70" fill="#44444e"/><rect x="475.50" y="124.80" width="1.00" height="645.70" fill="#2e2e38"/><rect x="521.10" y="124.80" width="1.00" height="645.20" fill="#2e2e38"/><rect x="560.05" y="124.80" width="1.30" height="645.20" fill="#55555f"/><rect x="233.50" y="258.00" width="173.20" height="1.00" fill="#2e2e38"/><rect x="233.50" y="268.10" width="173.20" height="1.00" fill="#2e2e38"/><rect x="424.80" y="258.00" width="96.80" height="1.00" fill="#2e2e38"/><rect x="424.80" y="268.10" width="96.80" height="1.00" fill="#2e2e38"/><rect x="233.50" y="391.80" width="173.20" height="1.00" fill="#2e2e38"/><rect x="233.50" y="401.90" width="173.20" height="1.00" fill="#2e2e38"/><rect x="424.80" y="391.80" width="51.20" height="1.00" fill="#2e2e38"/><rect x="424.80" y="401.90" width="51.20" height="1.00" fill="#2e2e38"/><rect x="233.50" y="466.25" width="173.20" height="1.30" fill="#2e2e38"/><rect x="233.50" y="476.60" width="173.20" height="1.00" fill="#2e2e38"/><rect x="424.80" y="466.40" width="51.20" height="1.00" fill="#2e2e38"/><rect x="424.80" y="476.60" width="51.20" height="1.00" fill="#2e2e38"/><rect x="233.50" y="604.70" width="173.20" height="1.00" fill="#2e2e38"/><rect x="233.50" y="615.10" width="173.20" height="1.00" fill="#2e2e38"/><rect x="424.80" y="604.70" width="51.20" height="1.00" fill="#2e2e38"/><rect x="424.80" y="615.10" width="51.20" height="1.00" fill="#2e2e38"/><rect x="233.50" y="738.60" width="173.20" height="1.00" fill="#2e2e38"/><rect x="233.50" y="748.90" width="173.20" height="1.00" fill="#2e2e38"/><rect x="424.80" y="738.60" width="51.20" height="1.00" fill="#2e2e38"/><rect x="424.80" y="748.90" width="51.20" height="1.00" fill="#2e2e38"/><rect x="233.50" y="759.20" width="173.20" height="1.00" fill="#2e2e38"/><rect x="233.50" y="769.10" width="173.20" height="1.80" fill="#2e2e38"/><rect x="424.80" y="759.20" width="51.20" height="1.00" fill="#2e2e38"/><rect x="424.80" y="769.10" width="51.20" height="1.80" fill="#2e2e38"/></svg>
<div style="position:absolute;left:315.8px;width:20px;top:887.0px;text-align:center;font-size:9.7px;line-height:12px;color:#333"><span style="display:inline-block;transform:scaleX(0.9)">6</span></div>
</body></html>
